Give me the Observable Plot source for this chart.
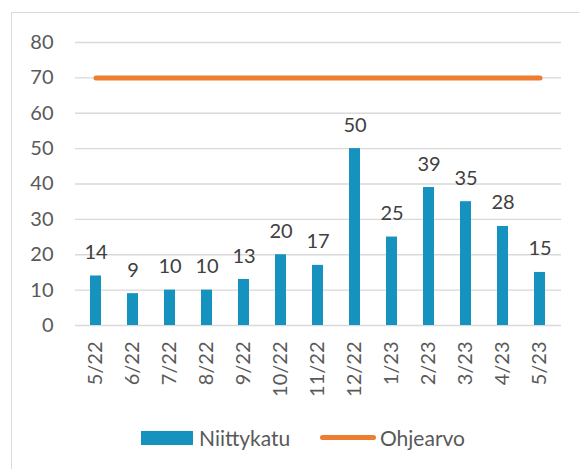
<!DOCTYPE html>
<html><head><meta charset="utf-8">
<script src="https://cdn.jsdelivr.net/npm/d3@7"></script>
<script src="https://cdn.jsdelivr.net/npm/@observablehq/plot@0.6"></script>
<style>
body{margin:0;background:#fff;font-family:Lato,"Open Sans",sans-serif;}
#wrap{position:relative;width:579px;height:469px;overflow:hidden;}
#frame{position:absolute;left:11px;top:12px;width:600px;height:480px;border:1px solid #d9d9d9;box-sizing:border-box;}
#chart{position:absolute;left:0;top:0;}
#legend{position:absolute;top:424px;left:0;width:579px;height:30px;font-size:21px;color:#595959;}
.sw{position:absolute;line-height:26px;}
</style></head>
<body><div id="wrap"><div id="frame"></div><div id="chart"></div>
<div id="legend">
<div class="sw" style="left:141px;top:7px;width:52px;height:14px;background:#1592bd"></div>
<div class="sw" style="left:199px;top:1px;">Niittykatu</div>
<div class="sw" style="left:320px;top:11px;width:56px;height:5px;border-radius:3px;background:#ed7d31"></div>
<div class="sw" style="left:380px;top:1px;">Ohjearvo</div>
</div></div>
<script>
const months = ["5/22","6/22","7/22","8/22","9/22","10/22","11/22","12/22","1/23","2/23","3/23","4/23","5/23"];
const niittykatu = [14,9,10,10,13,20,17,50,25,39,35,28,15];
const ohjearvo = [70,70,70,70,70,70,70,70,70,70,70,70,70];
const yTicks = [0,10,20,30,40,50,60,70,80];

const data = months.map((m,i)=>({m, v:niittykatu[i], o:ohjearvo[i]}));
const chart = Plot.plot({
  width:579, height:400,
  marginLeft:75, marginRight:18, marginTop:42, marginBottom:75,
  style:{fontFamily:"Lato, 'Open Sans', sans-serif", fontSize:"20px", color:"#595959", background:"transparent"},
  x:{domain:months, paddingInner:0.69, paddingOuter:0.345, label:null},
  y:{domain:[0,80], label:null},
  marks:[
    Plot.gridY(yTicks,{stroke:"#d9d9d9", strokeOpacity:1, strokeWidth:1.3}),
    Plot.axisY({ticks:yTicks, tickSize:0, tickPadding:22, label:null, fontSize:20, fill:"#595959"}),
    Plot.axisX({tickSize:0, tickRotate:-90, tickPadding:16, label:null, fontSize:20, fill:"#595959"}),
    Plot.barY(data,{x:"m", y:"v", fill:"#1592bd"}),
    Plot.text(data,{x:"m", y:"v", text:d=>String(d.v), lineAnchor:"bottom", dy:-17, fontSize:20, fill:"#404040"}),
    Plot.lineY(data,{x:"m", y:"o", stroke:"#ed7d31", strokeWidth:5, strokeLinecap:"round"})
  ]
});
document.getElementById("chart").appendChild(chart);
</script></body></html>
